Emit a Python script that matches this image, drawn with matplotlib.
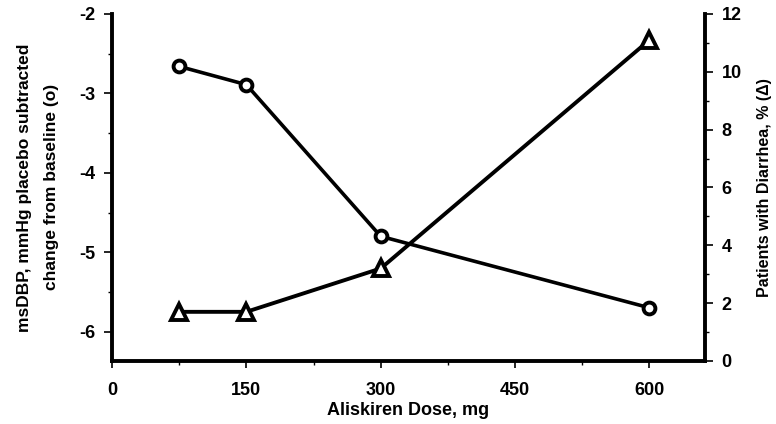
import matplotlib
matplotlib.use("Agg")
import matplotlib.pyplot as plt
from matplotlib.ticker import MultipleLocator

plt.rcParams['font.family'] = ['Liberation Sans', 'DejaVu Sans']
plt.rcParams['axes.unicode_minus'] = False

dose = [75, 150, 300, 600]
msdbp = [-2.66, -2.89, -4.80, -5.70]
diarrhea = [1.7, 1.7, 3.2, 11.1]
x_ticks = [0, 150, 300, 450, 600]
left_ticks = [-2, -3, -4, -5, -6]
right_ticks = [0, 2, 4, 6, 8, 10, 12]

fig = plt.figure(figsize=(7.76, 4.24), dpi=100)
ax = fig.add_axes([0.1443, 0.1486, 0.7642, 0.8184])
ax2 = ax.twinx()

ax.plot(dose, msdbp, color='black', lw=2.6, marker='o', ms=8.5,
        mfc='white', mec='black', mew=2.8, zorder=3)
ax2.plot(dose, diarrhea, color='black', lw=2.8, marker='^', ms=11,
         mfc='white', mec='black', mew=2.8, zorder=3)

ax.set_xlim(0, 662)
ax.set_ylim(-6.37, -2)
ax2.set_ylim(0, 12)

ax.set_xticks(x_ticks)
ax.xaxis.set_minor_locator(MultipleLocator(75))
ax.set_yticks(left_ticks)
ax.yaxis.set_minor_locator(MultipleLocator(0.5))
ax2.set_yticks(right_ticks)
ax2.yaxis.set_minor_locator(MultipleLocator(1))

for a in (ax, ax2):
    for s in a.spines.values():
        s.set_linewidth(2.8)
    a.spines['top'].set_visible(False)
ax.spines['right'].set_visible(False)
ax2.spines['left'].set_visible(False)
ax2.spines['bottom'].set_visible(False)

ax.tick_params(axis='y', which='major', length=6, width=1.2, labelsize=13, pad=6)
ax.tick_params(axis='y', which='minor', length=3, width=1.0)
ax.tick_params(axis='x', which='major', length=5, width=1.2, labelsize=13, pad=10)
ax.tick_params(axis='x', which='minor', length=3, width=1.0)
ax2.tick_params(axis='y', which='major', length=6, width=1.2, labelsize=13, pad=6)
ax2.tick_params(axis='y', which='minor', length=3, width=1.0)

ax.set_xticklabels([str(t) for t in x_ticks], fontweight='bold')
for lab in ax.get_yticklabels() + ax2.get_yticklabels():
    lab.set_fontweight('bold')

ax.set_xlabel("Aliskiren Dose, mg", fontsize=13, fontweight='bold', labelpad=2)
fig.text(38 / 776, 0.558, "msDBP, mmHg placebo subtracted\nchange from baseline (o)",
         fontsize=12.5, fontweight='bold', linespacing=2.0, rotation=90,
         ha='center', va='center', multialignment='center')
fig.text(765 / 776, 0.558, "Patients with Diarrhea, % (\u0394)", fontsize=11.5,
         fontweight='bold', rotation=90, ha='center', va='center')

fig.savefig("out.png", dpi=100)
